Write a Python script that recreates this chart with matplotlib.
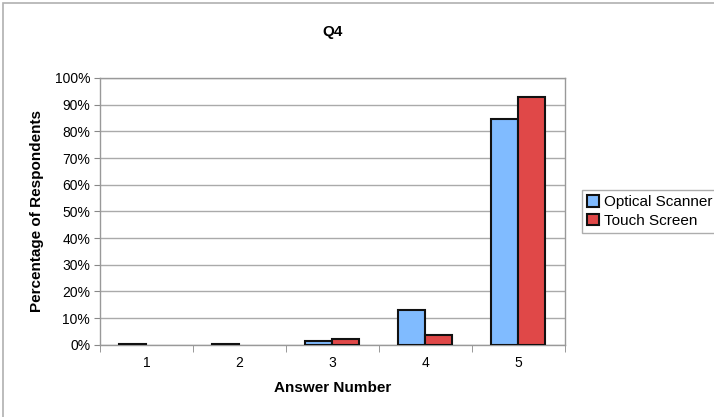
import numpy as np
import matplotlib.pyplot as plt
from matplotlib.patches import Rectangle
from matplotlib.ticker import PercentFormatter

plt.rcParams['font.family'] = ['Liberation Sans', 'DejaVu Sans']

answers = ['1', '2', '3', '4', '5']
optical = [0.4, 0.4, 1.6, 13.2, 84.6]
touch = [0.0, 0.0, 2.2, 3.7, 92.8]

fig = plt.figure(figsize=(7.14, 4.17), dpi=100)
fig.patches.append(Rectangle((0.004, -0.01), 1.0, 1.003, transform=fig.transFigure,
                             fill=False, edgecolor='#b0b0b0', linewidth=1.2))
ax = fig.add_axes([0.140, 0.173, 0.651, 0.640])

x = np.arange(len(answers))
w = 0.29
obars = ax.bar(x - w / 2, optical, w, color='#80bbff', edgecolor='#111111', linewidth=1.5,
               zorder=3)
tbars = ax.bar(x + w / 2, touch, w, color='#e04848', edgecolor='#111111', linewidth=1.5,
               zorder=3)
# zero-height bars leave no mark in the original
for b in tbars:
    if b.get_height() == 0:
        b.set_visible(False)

ax.set_xlim(-0.5, 4.5)
ax.set_ylim(0, 100)
ax.set_yticks(np.arange(0, 101, 10))
ax.yaxis.set_major_formatter(PercentFormatter(decimals=0))
ax.set_xticks(x)
ax.set_xticklabels(answers)
ax.set_xticks(np.arange(-0.5, 5, 1), minor=True)
ax.tick_params(axis='x', which='major', length=0, pad=8, labelsize=10)
ax.tick_params(axis='x', which='minor', length=5, color='#888888')
ax.tick_params(axis='y', length=4, color='#888888', labelsize=10, pad=3)
ax.grid(axis='y', color='#aaaaaa', linewidth=1.0, zorder=0)
for s in ax.spines.values():
    s.set_color('#999999')
    s.set_linewidth(1.0)

ax.set_title('Q4', fontsize=11, fontweight='bold', pad=30)
ax.set_xlabel('Answer Number', fontsize=11, fontweight='bold', labelpad=8)
ax.set_ylabel('Percentage of Respondents', fontsize=11, fontweight='bold', labelpad=8)

leg = ax.legend([obars[-1], tbars[-1]], ['Optical Scanner', 'Touch Screen'],
                loc='center left', bbox_to_anchor=(1.02, 0.5), fontsize=11,
                frameon=True, fancybox=False, handlelength=0.8, handleheight=0.8,
                handletextpad=0.3, borderpad=0.35, labelspacing=0.3)
leg.get_frame().set_edgecolor('#999999')
leg.get_frame().set_linewidth(1.0)

fig.savefig('out.png', dpi=100)
